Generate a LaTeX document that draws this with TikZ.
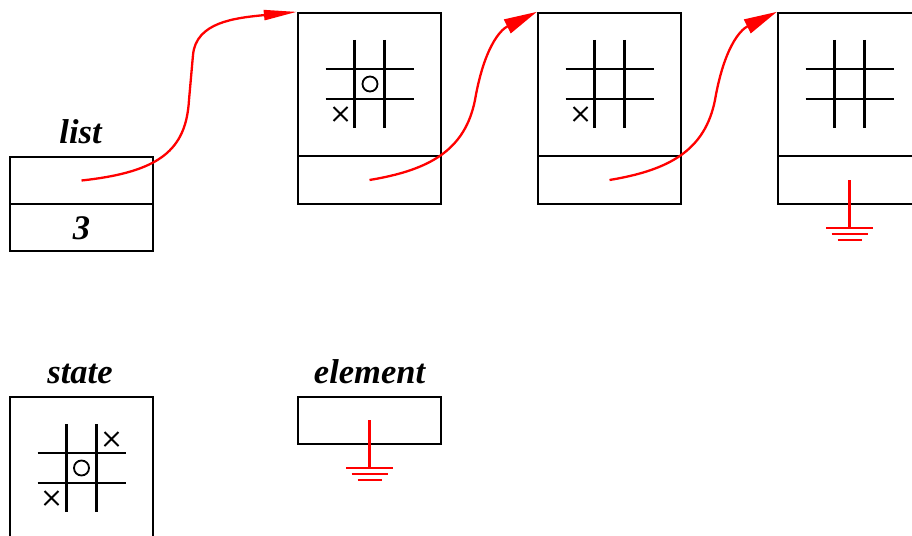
\documentclass[tikz,border=0pt]{standalone}
\usepackage{fontspec}
\setmainfont{Liberation Serif}
\usetikzlibrary{arrows.meta}
\begin{document}
\begin{tikzpicture}[x=1pt,y=-1pt,
  box/.style={draw,line width=2.3pt,minimum width=143pt,inner sep=0pt},
  cell/.style={box,minimum height=47pt},
  bigcell/.style={box,minimum height=143pt},
  lbl/.style={font=\fontsize{34.5}{40}\selectfont\bfseries\itshape,anchor=base,inner sep=0pt},
  ptr/.style={red,line width=2.3pt,-{Triangle[length=33pt,width=#1]}},
  ptr/.default=15pt,
  gnd/.style={red,line width=2.3pt},
  gridline/.style={line width=2.2pt},
  xomark/.style={line width=1.8pt},
  ttt/.pic={
    \draw[gridline] (-15,-44) -- (-15,44) (15,-44) -- (15,44)
                    (-44,-15) -- (44,-15) (-44,15) -- (44,15);
  },
  xsign/.pic={\draw[xomark] (-7,-7) -- (7,7) (-7,7) -- (7,-7);},
  osign/.pic={\draw[xomark] (0,0) circle (7.5);},
  earth/.pic={
    \draw[gnd] (0,0) -- (0,-48)
      (-23.5,0) -- (23.5,0) (-18,6) -- (18,6) (-12,12) -- (12,12);
  }
]
\useasboundingbox (0,0) rectangle (912,535);

% list
\node[cell] (l1) at (81.5,180.5) {};
\node[cell] (l2) at (81.5,227.5) {};
\node[lbl] (ltitle) at (80.5,143.3) {list};
\node[lbl] (lnum) at (81.5,239.3) {3};

% list elements
\node[bigcell] (n1t) at (369.5,84.5) {};
\node[cell,minimum height=48pt] (n1b) at (369.5,180) {};
\node[bigcell] (n2t) at (609.5,84.5) {};
\node[cell,minimum height=48pt] (n2b) at (609.5,180) {};
\node[bigcell] (n3t) at (849.5,84.5) {};
\node[cell,minimum height=48pt] (n3b) at (849.5,180) {};

\pic at (369.5,84) {ttt};
\pic at (370,84) {osign};
\pic at (340.5,114) {xsign};
\pic at (609.5,84) {ttt};
\pic at (580.5,114) {xsign};
\pic at (849.5,84) {ttt};

% state
\node[bigcell] (state) at (81.5,468.5) {};
\node[lbl] (stitle) at (80,383.3) {state};
\pic at (81.5,468) {ttt};
\pic at (81.5,468) {osign};
\pic at (111.5,439) {xsign};
\pic at (51.5,498) {xsign};

% element
\node[cell] (elem) at (369.5,420.5) {};
\node[lbl] (etitle) at (369.5,383.3) {element};

% pointers
\draw[ptr=10pt] (l1.center) .. controls (160,172) and (186,150) .. (189,100)
  -- (193,55) .. controls (196,22) and (235,18) .. (n1t.north west);
\draw[ptr] (n1b.center) .. controls (430,170) and (465,150) .. (475,100)
  .. controls (484,48) and (500,30) .. (n2t.north west);
\draw[ptr] (n2b.center) .. controls (670,170) and (705,150) .. (715,100)
  .. controls (724,48) and (740,30) .. (n3t.north west);

% null pointers
\pic at ([yshift=-48pt]n3b.center) {earth};
\pic at ([yshift=-47.5pt]elem.center) {earth};
\end{tikzpicture}
\end{document}
